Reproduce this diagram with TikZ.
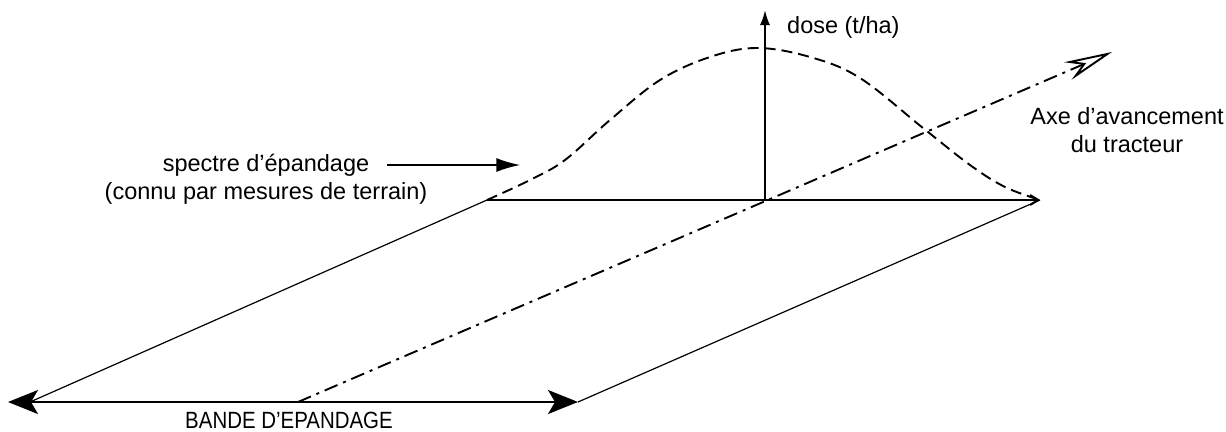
\documentclass[tikz,border=0pt]{standalone}
\usepackage{fontspec}
\setmainfont{Liberation Sans}
\usetikzlibrary{arrows.meta}
\begin{document}
\begin{tikzpicture}[x=1pt,y=-1pt,
  lbl/.style={font=\fontsize{23.5}{28.5}\selectfont, inner sep=0pt, align=center},
  edgeline/.style={line width=1.2pt},
  strong/.style={line width=2pt},
  bell/.style={line width=1.9pt, dash pattern=on 11pt off 6pt},
  axisdd/.style={line width=1.9pt, dash pattern=on 14pt off 6pt on 3pt off 6pt},
  bigtip/.tip={Stealth[length=30pt,width=24pt,inset=7pt]},
]
\useasboundingbox (0,0) rectangle (1226,431);
% key points
\coordinate (TL) at (487,200);
\coordinate (TR) at (1040,200);
\coordinate (BR) at (578,402);
\coordinate (BL) at (30,402);
\coordinate (LT) at (8,402);
\coordinate (O) at (765,200);
\coordinate (Ztop) at (765,10);
\coordinate (A0) at (298,402);
\coordinate (A1) at (1112,52);

% parallelogram (band)
\draw[edgeline] (TL) -- (BL);
\draw[edgeline] (TR) -- (BR);
\draw[strong, -{Straight Barb[length=8pt,width=10pt]}] (TL) -- (TR);
\draw[strong, bigtip-bigtip] (LT) -- (BR);

% dose axis
\draw[strong, -{Latex[length=15pt,width=10pt]}] (O) -- (Ztop);

% tractor axis
\draw[axisdd, -{Stealth[open, length=48pt, width=19pt, inset=16pt]}] (A0) -- (A1);

% spreading spectrum
\draw[bell] plot[smooth, tension=0.6] coordinates {(487,200) (530,180) (565,160) (610,120) (660,80) (710,57) (757,48) (810,57) (860,78) (923,128) (970,165) (1005,187) (1040,200)};

% labels
\node[lbl] (spec1) at (266,165) {spectre d'épandage};
\node[lbl] (spec2) at (266,193) {(connu par mesures de terrain)};
\coordinate (sptip) at ([xshift=151pt]spec1.east);
\draw[strong, -{Latex[length=24pt,width=14pt]}, shorten <=18pt] (spec1.east) -- (sptip);
\node[lbl, anchor=west] (dose) at (787,27) {dose (t/ha)};
\node[lbl] (axe) at (1127,130) {Axe d'avancement\\du tracteur};
\node[lbl] (bande) at (289,420) {\scalebox{0.87}[1]{BANDE D'EPANDAGE}};
\end{tikzpicture}
\end{document}
